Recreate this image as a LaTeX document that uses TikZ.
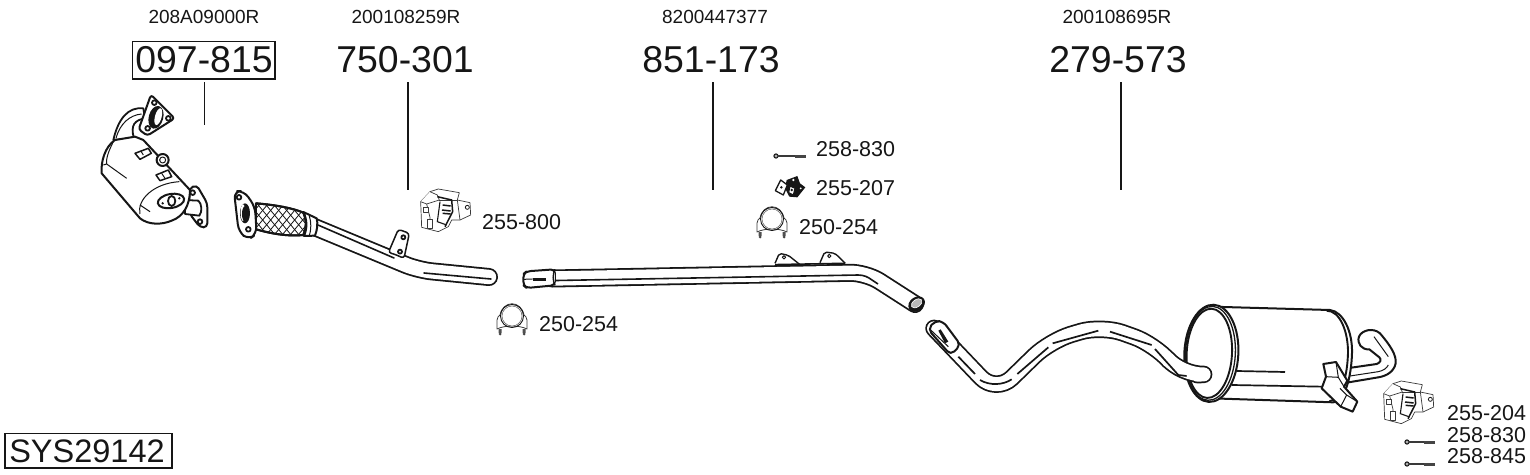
\documentclass[tikz,border=0pt]{standalone}
\usepackage{fontspec}
\setmainfont{Liberation Sans}
\usetikzlibrary{calc}
\definecolor{ink}{HTML}{161616}
\tikzset{
  x=1pt,y=-1pt,
  big/.style={inner sep=0pt,text=ink,font=\fontsize{37.4}{40}\selectfont},
  mid/.style={inner sep=0pt,anchor=west,text=ink,font=\fontsize{21.5}{24}\selectfont},
  sml/.style={inner sep=0pt,text=ink,font=\fontsize{19}{21}\selectfont},
  leader/.style={draw=ink,line width=1.3pt},
  ol/.style={draw=ink,line width=1.8pt,fill=white,line join=round},
  thin/.style={draw=ink,line width=1pt,line join=round},
  hair/.style={draw=ink!85,line width=.7pt,line join=round,fill=white},
  tubeo/.style={draw=ink,line width=18pt,line join=round,line cap=round,rounded corners=#1},
  tubei/.style={draw=white,line width=14.4pt,line join=round,line cap=round,rounded corners=#1},
  zoomed/.style={x=.3333pt,y=-.3333pt},
  pics/clamp/.style={code={
    \draw[hair,line width=.8pt] (-15,10) -- (-15,1) .. controls (-15,-2) and (-13,-3) .. (-12,-4)
       .. controls (-9,-19) and (9,-19) .. (12,-4) .. controls (13,-3) and (15,-2) .. (15,1) -- (15,10)
       .. controls (7,6) and (-7,6) .. (-15,10) -- cycle;
    \draw[draw=ink,line width=.9pt] (0,-3) circle (11.5);
    \draw[draw=ink!70,line width=.5pt,fill=white] (0,-3) circle (10);
    \fill[ink!75] (-13.5,10) rectangle (-10.5,14) (10.5,10) rectangle (13.5,14);
    \fill[ink!80] (-12,15) circle (1.5) (12,15) circle (1.5);
  }},
  pics/bolt/.style={code={
    \draw[draw=ink,line width=1pt,fill=ink!35] (0,0) circle (2.1);
    \draw[draw=ink!85,line width=1.8pt] (2,0) -- (#1,0);
    \draw[draw=ink!80,line width=3pt] ({#1*.62},0) -- (#1,0);
  }},
  pics/hanger/.style={code={
    \begin{scope}[zoomed]
      \draw[hair] (122,215) -- (150,185) -- (175,177) -- (238,188) -- (232,210) -- (270,218) -- (272,255) -- (240,270) -- (215,270) -- (205,290) -- (175,305) -- (125,292) -- cycle;
      \draw[hair] (122,215) -- (140,222) -- (178,210) -- (172,195) -- (150,185);
      \draw[hair] (140,222) -- (150,262) -- (148,298);
      \draw[hair] (178,210) -- (232,210);
      \draw[hair] (232,210) -- (240,270);
      \draw[hair] (130,232) rectangle (146,246);
      \draw[hair] (142,268) rectangle (158,296);
      \draw[draw=ink,line width=1.5pt] (172,200) -- (215,210) -- (218,245) -- (195,290);
      \draw[draw=ink,line width=1.5pt] (188,225) -- (212,228) (186,240) -- (212,243) (188,250) -- (212,252);
      \draw[draw=ink,line width=1.1pt] (180,215) -- (172,275) -- (200,285);
      \draw[draw=ink,line width=.8pt] (262,232) circle (6);
    \end{scope}
  }},
}
\begin{document}
\begin{tikzpicture}
\useasboundingbox (0,0) rectangle (1530,474);

% Part numbers
\node[sml] (r1) at (204,17) {208A09000R};
\node[sml] (r2) at (406,17) {200108259R};
\node[sml] (r3) at (715,17) {8200447377};
\node[sml] (r4) at (1117,17) {200108695R};
\node[big] (p1) at (204,60) {097-815};
\node[big] (p2) at (405,60) {750-301};
\node[big] (p3) at (711,60) {851-173};
\node[big] (p4) at (1118,60) {279-573};
\draw[draw=ink,line width=1.2pt] (132.5,41.5) rectangle (275,79);
\node[inner sep=0pt,text=ink,font=\fontsize{32.5}{35}\selectfont] (sys) at (87,451) {SYS29142};
\draw[draw=ink,line width=1.2pt] (5,433.5) rectangle (172,468);

% Leaders
\coordinate (l1a) at (204.5,82); \coordinate (l1b) at (204.5,125);
\coordinate (l2a) at (408,82);   \coordinate (l2b) at (408,190);
\coordinate (l3a) at (713,82);   \coordinate (l3b) at (713,190);
\coordinate (l4a) at (1121,82);  \coordinate (l4b) at (1121,190);
\draw[leader] (l1a) -- (l1b);
\draw[leader] (l2a) -- (l2b);
\draw[leader] (l3a) -- (l3b);
\draw[leader] (l4a) -- (l4b);

% Catalyst
\begin{scope}[shift={(90,90)},zoomed]
  \draw[ol] (70,150) .. controls (85,85) and (115,50) .. (160,55) -- (165,85) .. controls (135,90) and (120,105) .. (132,145) -- cycle;
  \draw[thin] (78,145) .. controls (90,100) and (120,75) .. (155,72);
  \draw[ol,line width=2pt,rounded corners=3pt] (183,14) -- (254,85) -- (172,137) -- (146,118) -- cycle;
  \draw[ol,fill=ink] (198,82) ellipse [x radius=19,y radius=32,rotate=-15];
  \fill[white] (205,80) ellipse [x radius=10,y radius=26,rotate=-15];
  \draw[ol] (193,38) circle (7) (235,85) circle (7) (173,115) circle (7);
  \draw[ol,line width=2pt,rounded corners=4pt] (298,295) -- (320,285) -- (352,340) -- (352,412) -- (330,412) -- (298,370) -- cycle;
  \draw[ol] (308,308) circle (7) (330,395) circle (7);
  \draw[ol] (285,330) -- (325,332) .. controls (335,340) and (338,365) .. (328,377) -- (285,372) -- cycle;
  \draw[ol,line width=2pt] (35,250) .. controls (32,215) and (45,170) .. (75,150) -- (135,140) -- (160,150) -- (300,300)
     .. controls (300,345) and (280,380) .. (245,392) .. controls (215,405) and (175,405) .. (150,385) -- cycle;
  \draw[thin] (150,372) .. controls (140,330) and (190,280) .. (268,275);
  \draw[thin] (70,155) .. controls (55,185) and (48,205) .. (50,222);
  \draw[thin] (40,225) -- (50,222) -- (110,265);
  \draw[thin] (150,345) -- (180,365);
  \draw[ol,line width=1.5pt] (135,190) -- (175,175) -- (184,190) -- (150,208) -- cycle;
  \draw[ol,line width=1.5pt] (198,255) -- (235,240) -- (245,260) -- (210,272) -- cycle;
  \draw[thin] (152,182) -- (160,195) (215,250) -- (225,265);
  \draw[ol,line width=2pt] (218,210) circle (18);
  \draw[thin] (218,210) circle (9);
  \draw[ol,line width=2pt] (243,333) ellipse [x radius=40,y radius=21,rotate=10];
  \draw[ol] (245,333) ellipse [x radius=11,y radius=15];
  \fill[ink] (218,340) circle (4) (268,325) circle (4);
\end{scope}

% Pipe 750-301
\draw[tubeo=14pt] (312,226) -- (418,270) -- (489,277);
\draw[tubei=14pt] (312,226) -- (418,270) -- (489,277);
\draw[draw=ink,line width=1.6pt,line cap=round] (318,225) -- (394,258) (424,273) -- (491,279);
\begin{scope}[shift={(90,90)},zoomed]
  \draw[ol,line width=2pt] (498,340) .. controls (560,345) and (610,355) .. (640,368) .. controls (650,390) and (650,415) .. (640,435) .. controls (590,440) and (540,430) .. (498,418) -- cycle;
  \begin{scope}
    \clip (498,340) .. controls (560,345) and (610,355) .. (640,368) .. controls (650,390) and (650,415) .. (640,435) .. controls (590,440) and (540,430) .. (498,418) -- cycle;
    \foreach \k in {0,24,...,240} {
      \draw[draw=ink,line width=.8pt] (420+\k,330) -- (520+\k,450);
      \draw[draw=ink,line width=.8pt] (520+\k,330) -- (420+\k,450);
    }
  \end{scope}
  \draw[draw=ink,line width=2pt] (498,340) .. controls (560,345) and (610,355) .. (640,368) .. controls (650,390) and (650,415) .. (640,435) .. controls (590,440) and (540,430) .. (498,418);
  \draw[ol,line width=2pt] (640,366) -- (680,385) .. controls (684,400) and (682,420) .. (675,437) -- (642,438) .. controls (652,415) and (652,390) .. (640,366) -- cycle;
  \draw[thin] (658,378) .. controls (664,395) and (664,420) .. (658,437);
  \draw[ol,line width=2pt,rounded corners=7pt] (432,304) -- (462,303) -- (495,350) -- (500,432) -- (475,449) -- (446,425) -- cycle;
  \fill[ink] (465,370) ellipse [x radius=15,y radius=30];
  \fill[white] (459,368) ellipse [x radius=7,y radius=25];
  \fill[ink] (466,372) ellipse [x radius=10,y radius=24];
  \draw[ol] (447,322) circle (7) (475,418) circle (7);
\end{scope}
\begin{scope}[shift={(380,130)},zoomed]
  \draw[ol,line width=1.5pt,rounded corners=3pt] (55,298) -- (88,310) -- (72,385) -- (42,372) -- (25,368) -- cycle;
  \draw[ol] (70,322) circle (6) (60,365) circle (6);
\end{scope}

% Pipe 851-173
\draw[tubeo=16pt] (552,278.5) -- (866,272.5) -- (915,304);
\draw[tubei=16pt] (552,278.5) -- (866,272.5) -- (915,304);
\draw[draw=ink,line width=1.6pt] (556,280.5) -- (858,275) .. controls (864,275) and (868,277) .. (872,280) -- (878,284);
\begin{scope}[shift={(380,130)},zoomed]
  \draw[ol,line width=2pt,rounded corners=4pt] (430,432) -- (440,424) -- (525,418) -- (525,466) -- (440,474) -- (430,466) -- cycle;
  \draw[ol,line width=1.5pt] (525,418) .. controls (518,435) and (518,450) .. (525,466);
  \fill[ink] (458,443) rectangle (497,452);
  \draw[thin] (432,448) -- (458,447);
\end{scope}
\begin{scope}[shift={(740,130)},zoomed]
  \draw[ol,line width=1.4pt,rounded corners=2pt] (105,400) -- (118,370) -- (145,376) -- (180,404);
  \draw[ol,line width=1.4pt,rounded corners=2pt] (240,398) -- (254,366) -- (285,370) -- (316,400);
  \draw[thin] (132,382) circle (5) (268,378) circle (5);
  \draw[ol,fill=ink] (530,522) ellipse [x radius=18,y radius=24,rotate=-55];
  \draw[draw=white,line width=.6pt,fill=white!70!ink] (530,520) ellipse [x radius=11,y radius=18,rotate=-55];
\end{scope}
\draw[draw=ink,line width=1.6pt] (775,264.6) -- (845,263.3);

% Muffler
\begin{scope}[shift={(1170,290)},zoomed]
  \draw[ol,line width=2pt] (530,235) -- (620,222) .. controls (632,218) and (635,208) .. (628,202) -- (598,178) .. controls (575,180) and (560,160) .. (567,140) .. controls (575,120) and (610,112) .. (630,130) .. controls (660,165) and (680,195) .. (677,220) .. controls (672,245) and (650,258) .. (625,262) -- (530,278) -- cycle;
  \draw[thin] (612,140) -- (655,200);
  \draw[thin] (540,258) -- (625,245) .. controls (640,242) and (650,235) .. (655,225);
  \draw[ol,line width=2pt] (125,50) -- (480,60) .. controls (520,65) and (548,125) .. (546,190) .. controls (544,260) and (525,335) .. (490,337) -- (125,325) -- cycle;
  \draw[draw=ink,line width=1.9pt] (470,62) .. controls (510,62) and (535,125) .. (534,190) .. controls (532,255) and (515,330) .. (478,334);
  \draw[draw=ink,line width=1.7pt] (200,243) -- (345,246);
  \draw[draw=ink,line width=1.7pt] (185,285) -- (455,290);
  \draw[ol,line width=2pt] (124,190) ellipse [x radius=81,y radius=146,rotate=-3];
  \draw[ol,line width=1.9pt] (118,190) ellipse [x radius=68,y radius=134,rotate=-3];
  \draw[draw=ink,line width=1.3pt] (121,190) ellipse [x radius=75,y radius=141,rotate=-3];
  \draw[ol,line width=2pt] (460,222) -- (498,216) -- (532,272) -- (522,290) -- (562,335) -- (548,365) -- (512,350) -- (455,295) -- (468,260) -- cycle;
  \draw[thin] (468,260) -- (505,262) -- (522,290) (505,262) -- (498,216);
  \draw[thin] (512,350) -- (530,315) -- (562,335) (510,295) -- (530,315);
\end{scope}

% Pipe 279-573
\begin{scope}[shift={(920,300)},zoomed]
  \draw[tubeo=22pt,line width=17.5pt] (42,85) -- (228,280) -- (390,122) -- (545,76) -- (705,133) -- (785,226) -- (832,224);
  \draw[tubei=22pt,line width=14pt] (42,85) -- (228,280) -- (390,122) -- (545,76) -- (705,133) -- (785,226) -- (832,224);
  \draw[draw=ink,line width=1.7pt] (115,170) -- (165,222)
      (180,240) .. controls (210,258) and (250,255) .. (275,238)
      (292,222) -- (385,142)
      (398,130) -- (535,92)
      (570,95) -- (695,135)
      (705,147) -- (775,225) -- (800,228);
  % slotted end
  \draw[ol,line width=2pt,rounded corners=5pt] (24,88) -- (45,62) -- (70,65) -- (122,135) -- (92,165) -- cycle;
  \draw[thin] (30,88) -- (85,140);
  \fill[ink] (55,92) -- (62,88) -- (85,125) -- (75,130) -- cycle;
\end{scope}

% Small parts
\pic at (380,130) {hanger};
\pic at (1343,322) {hanger};
\pic at (512,319) {clamp};
\pic at (772,222) {clamp};
\pic at (776,156) {bolt=30};
\pic at (1407,442) {bolt=28};
\pic at (1407,464) {bolt=28};
\begin{scope}[shift={(740,130)},zoomed]
  \fill[ink] (140,150) -- (172,138) -- (180,160) -- (196,172) -- (172,202) -- (148,200) -- (135,175) -- cycle;
  \draw[ol,line width=1.3pt] (106,182) -- (122,150) -- (142,165) -- (130,195) -- cycle;
  \draw[ol,line width=1.1pt] (150,168) -- (165,175) -- (160,195) -- (146,188) -- cycle;
  \fill[ink] (124,172) circle (4) (155,180) circle (4);
  \fill[white] (160,150) circle (4) (182,175) circle (3);
\end{scope}

% Labels
\node[mid] (t1) at (816,149.5) {258-830};
\node[mid] (t2) at (816,188) {255-207};
\node[mid] (t3) at (799,227.5) {250-254};
\node[mid] (t4) at (482,222) {255-800};
\node[mid] (t5) at (539,324.5) {250-254};
\node[mid] (t6) at (1447,413.5) {255-204};
\node[mid] (t7) at (1447,435) {258-830};
\node[mid] (t8) at (1447,456) {258-845};
\end{tikzpicture}
\end{document}
